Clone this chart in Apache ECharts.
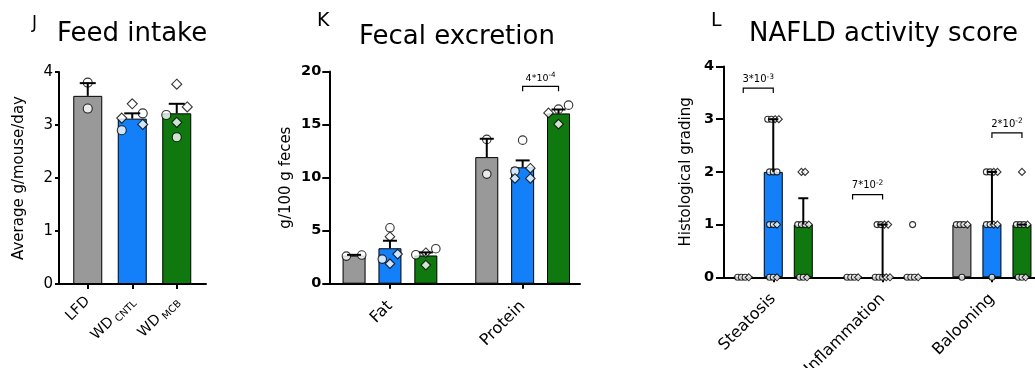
<!DOCTYPE html>
<html><head><meta charset="utf-8">
<script src="https://cdn.jsdelivr.net/npm/echarts@6/dist/echarts.min.js"></script>
<style>html,body{margin:0;padding:0;background:#fff}#c{width:1035px;height:368px}</style>
</head><body><div id="c"></div>
<script>
// ===== DATA =====
// Panel J: Feed intake
const jCategories = ['LFD', 'WD_CNTL', 'WD_MCB'];
const jMeans = [3.55, 3.12, 3.22];
const jErrTop = [3.79, 3.22, 3.40];
const jCircles = [[3.80, 3.31], [3.22, 2.90], [3.19, 2.77]];
const jDiamonds = [[], [3.40, 3.13, 3.01], [3.77, 3.34, 3.05]];

// Panel K: Fecal excretion
const kCategories = ['Fat', 'Protein'];
const kMeansLFD = [2.65, 11.93];
const kMeansCNTL = [3.34, 10.97];
const kMeansMCB = [2.66, 16.05];
const kErrTopLFD = [2.72, 13.66];
const kErrTopCNTL = [4.05, 11.62];
const kErrTopMCB = [2.95, 16.42];
const kCirclesLFD = [[2.60, 2.70], [13.60, 10.33]];
const kDiamondsLFD = [[], []];
const kCirclesCNTL = [[5.27, 2.32], [13.53, 10.61]];
const kDiamondsCNTL = [[4.43, 2.79, 1.88], [10.89, 9.92, 9.92]];
const kCirclesMCB = [[3.30, 2.73], [16.83, 16.45]];
const kDiamondsMCB = [[2.92, 1.76], [16.10, 15.04]];
const kSigCategory = [1];
const kSigFrom = [1];
const kSigTo = [2];
const kSigLevel = [18.6];
const kSigText = ['4*10^-4'];

// Panel L: NAFLD activity score
const lCategories = ['Steatosis', 'Inflammation', 'Balooning'];
const lMedLFD = [0, 0, 1];
const lMedCNTL = [2, 0, 1];
const lMedMCB = [1, 0, 1];
const lErrTopLFD = [null, null, null];
const lErrTopCNTL = [3, 1, 2];
const lErrTopMCB = [1.5, null, 1];
const lCirclesLFD = [[0, 0, 0], [0, 0, 0], [1, 1, 1, 0]];
const lDiamondsLFD = [[0], [0], [1]];
const lCirclesCNTL = [[3, 3, 2, 2, 2, 1, 1, 0, 0], [1, 1, 0, 0, 0], [2, 2, 1, 1, 0]];
const lDiamondsCNTL = [[3, 3, 1, 0], [1, 1, 0, 0], [2, 2, 1, 1]];
const lCirclesMCB = [[1, 1, 1, 0, 0], [1, 0, 0, 0], [1, 1, 1, 0, 0]];
const lDiamondsMCB = [[2, 2, 1, 0], [0], [2, 1, 0]];
const lSigCategory = [0, 1, 2];
const lSigFrom = [0, 0, 1];
const lSigTo = [1, 1, 2];
const lSigLevel = [3.59, 1.57, 2.74];
const lSigText = ['3*10^-3', '7*10^-2', '2*10^-2'];

// ===== STYLE / LAYOUT =====
const FONT = 'DejaVu Sans';
const GRAY = '#999999', BLUE = '#1380FA', GREEN = '#0F790F';
const slotColors = [GRAY, BLUE, GREEN];

const J = { frameLeft: 59, frameWidth: 147, dataLeft: 65.5, dataWidth: 133.5, top: 72, height: 212, max: 4, interval: 1 };
const K = { frameLeft: 329.3, frameWidth: 250.7, dataLeft: 323.6, dataWidth: 265.4, top: 71.5, height: 212.2, max: 20, interval: 5 };
const L = { frameLeft: 724, frameWidth: 311, dataLeft: 718.6, dataWidth: 328, top: 66.5, height: 210.8, max: 4, interval: 1 };

function rowOffsets(vals, ppu, rowPx, step, maxSpread) {
  const n = vals.length;
  const order = vals.map((_, i) => i).sort((a, b) => vals[b] - vals[a]);
  const off = new Array(n).fill(0);
  let row = [], rowTop = 0;
  const flush = () => {
    const r = row.slice().sort((a, b) => vals[a] - vals[b]);
    const st = r.length > 1 ? Math.min(step, maxSpread / (r.length - 1)) : 0;
    r.forEach((idx, k) => { off[idx] = (k - (r.length - 1) / 2) * st; });
    row = [];
  };
  order.forEach(i => {
    const y = -vals[i] * ppu;
    if (row.length && (y - rowTop) >= rowPx) flush();
    if (!row.length) rowTop = y;
    row.push(i);
  });
  if (row.length) flush();
  return off;
}

function pointSeries(xi, yi, circles, diamonds, slotOffset, ppu, rowPx, step, maxSpread, cSize, dSize) {
  const outC = [], outD = [];
  circles.forEach((cVals, ci) => {
    const dVals = diamonds[ci] || [];
    const all = cVals.map(v => ({ v, s: 'c' })).concat(dVals.map(v => ({ v, s: 'd' })));
    const offs = rowOffsets(all.map(p => p.v), ppu, rowPx, step, maxSpread);
    all.forEach((p, i) => {
      const item = { value: [ci, p.v], symbolOffset: [slotOffset + offs[i], 0] };
      (p.s === 'c' ? outC : outD).push(item);
    });
  });
  const base = { type: 'scatter', xAxisIndex: xi, yAxisIndex: yi, z: 4, silent: true,
    itemStyle: { color: '#fff', borderColor: '#000', borderWidth: 1.1 } };
  return [
    Object.assign({}, base, { symbol: 'circle', symbolSize: cSize, data: outC }),
    Object.assign({}, base, { symbol: 'diamond', symbolSize: dSize, data: outD })
  ];
}

function errorSeries(xi, yi, means, tops, slotOffset, cap) {
  const data = means.map((m, i) => tops[i] == null ? null : [i, m, tops[i]]).filter(Boolean);
  return { type: 'custom', xAxisIndex: xi, yAxisIndex: yi, z: 6, silent: true, data,
    encode: { x: 0, y: [1, 2] },
    renderItem(params, api) {
      const c0 = api.coord([api.value(0), api.value(1)]);
      const c1 = api.coord([api.value(0), api.value(2)]);
      const x = c0[0] + slotOffset;
      const st = { stroke: '#000', lineWidth: 2 };
      return { type: 'group', children: [
        { type: 'line', shape: { x1: x, y1: c0[1], x2: x, y2: c1[1] }, style: st },
        { type: 'line', shape: { x1: x - cap, y1: c1[1], x2: x + cap, y2: c1[1] }, style: st }
      ] };
    } };
}

function sigSeries(xi, yi, cats, from, to, levels, texts, slotStep, tickPx, fs) {
  const data = cats.map((c, i) => [c, levels[i], from[i], to[i]]);
  return { type: 'custom', xAxisIndex: xi, yAxisIndex: yi, z: 7, silent: true, data,
    encode: { x: 0, y: 1 },
    renderItem(params, api) {
      const p = api.coord([api.value(0), api.value(1)]);
      const x1 = p[0] + (api.value(2) - 1) * slotStep;
      const x2 = p[0] + (api.value(3) - 1) * slotStep;
      const parts = texts[params.dataIndex].split('^');
      return { type: 'group', children: [
        { type: 'polyline', shape: { points: [[x1, p[1] + tickPx], [x1, p[1]], [x2, p[1]], [x2, p[1] + tickPx]] },
          style: { stroke: '#000', lineWidth: 1.2, fill: null } },
        { type: 'text', x: (x1 + x2) / 2, y: p[1] - 2,
          style: { text: '{m|' + parts[0] + '}{e|' + parts[1] + '}', align: 'center', verticalAlign: 'bottom',
            fontFamily: FONT, fontSize: fs, fill: '#000',
            rich: { m: { fontFamily: FONT, fontSize: fs, fill: '#000' },
                    e: { fontFamily: FONT, fontSize: fs * 0.75, fill: '#000', padding: [0, 0, fs * 0.55, 0] } } } }
      ] };
    } };
}

function frameAxes(P, gi, tickLen, labelMargin, bold, name, nameGap) {
  return {
    x: { type: 'category', gridIndex: gi, data: [''], axisLine: { lineStyle: { color: '#000', width: 2 } },
         axisTick: { show: false }, axisLabel: { show: false }, splitLine: { show: false } },
    y: { type: 'value', gridIndex: gi, min: 0, max: P.max, interval: P.interval,
         axisLine: { show: true, lineStyle: { color: '#000', width: 2 } },
         axisTick: { show: true, length: tickLen, lineStyle: { color: '#000', width: 2 } },
         axisLabel: { margin: labelMargin, color: '#000', fontFamily: FONT, fontSize: bold ? 14.5 : 15, fontWeight: bold ? 'bold' : 'normal' },
         splitLine: { show: false },
         name, nameLocation: 'middle', nameGap, nameTextStyle: { color: '#000', fontFamily: FONT, fontSize: 15 } }
  };
}
function dataAxes(P, gi, cats, fs, margin, rich, formatter) {
  return {
    x: { type: 'category', gridIndex: gi, data: cats, axisLine: { show: false },
         axisTick: { show: true, alignWithLabel: true, length: 5, lineStyle: { color: '#000', width: 2 } },
         axisLabel: { interval: 0, rotate: 45, margin, color: '#000', fontFamily: FONT, fontSize: fs, rich, formatter } },
    y: { type: 'value', gridIndex: gi, min: 0, max: P.max, interval: P.interval, show: false }
  };
}

const grids = [], xAxes = [], yAxes = [], series = [];
function addGrid(left, width, P) {
  grids.push({ left, width, top: P.top, height: P.height, containLabel: false, outerBoundsMode: 'none' });
  return grids.length - 1;
}

// ---- Panel J ----
{
  const gF = addGrid(J.frameLeft, J.frameWidth, J);
  const gD = addGrid(J.dataLeft, J.dataWidth, J);
  const fa = frameAxes(J, gF, 4, 6, false, 'Average g/mouse/day', 32);
  xAxes.push(fa.x); yAxes.push(fa.y);
  const da = dataAxes(J, gD, jCategories, 14.5, 15,
    { m: { fontFamily: FONT, fontSize: 14.5, color: '#000' }, s: { fontFamily: FONT, fontSize: 10, color: '#000', padding: [9, 0, 0, 3] } },
    v => { const p = v.split('_'); return p[1] ? '{m|' + p[0] + '}{s|' + p[1] + '}' : '{m|' + p[0] + '}'; });
  xAxes.push(da.x); yAxes.push(da.y);
  const ppu = J.height / J.max;
  series.push({ type: 'bar', xAxisIndex: 1, yAxisIndex: 1, barWidth: 29, z: 2, silent: true,
    itemStyle: { borderColor: '#000', borderWidth: 1 },
    data: jMeans.map((v, i) => ({ value: v, itemStyle: { color: slotColors[i] } })) });
  series.push(...pointSeries(1, 1, jCircles, jDiamonds, 0, ppu, 9, 21, 21, 9, 10));
  series.push(errorSeries(1, 1, jMeans, jErrTop, 0, 8));
}

// ---- Panel K ----
{
  const gF = addGrid(K.frameLeft, K.frameWidth, K);
  const gD = addGrid(K.dataLeft, K.dataWidth, K);
  const fa = frameAxes(K, gF, 7, 8, true, 'g/100 g feces', 36);
  xAxes.push(fa.x); yAxes.push(fa.y);
  const da = dataAxes(K, gD, kCategories, 16, 20);
  xAxes.push(da.x); yAxes.push(da.y);
  const ppu = K.height / K.max, bw = 23, gap = 0.56, step = bw * (1 + gap);
  const means = [kMeansLFD, kMeansCNTL, kMeansMCB], tops = [kErrTopLFD, kErrTopCNTL, kErrTopMCB];
  const circ = [kCirclesLFD, kCirclesCNTL, kCirclesMCB], diam = [kDiamondsLFD, kDiamondsCNTL, kDiamondsMCB];
  means.forEach((m, s) => series.push({ type: 'bar', xAxisIndex: 3, yAxisIndex: 3, barWidth: bw, barGap: (gap * 100) + '%', z: 2, silent: true,
    itemStyle: { color: slotColors[s], borderColor: '#000', borderWidth: 1 }, data: m }));
  means.forEach((m, s) => series.push(...pointSeries(3, 3, circ[s], diam[s], (s - 1) * step, ppu, 8.5, 15.4, 20, 8.5, 9.5)));
  means.forEach((m, s) => series.push(errorSeries(3, 3, m, tops[s], (s - 1) * step, 7)));
  series.push(sigSeries(3, 3, kSigCategory, kSigFrom, kSigTo, kSigLevel, kSigText, step, 5, 9.5));
}

// ---- Panel L ----
{
  const gF = addGrid(L.frameLeft, L.frameWidth, L);
  const gD = addGrid(L.dataLeft, L.dataWidth, L);
  const fa = frameAxes(L, gF, 8, 10, true, 'Histological grading', 30);
  xAxes.push(fa.x); yAxes.push(fa.y);
  const da = dataAxes(L, gD, lCategories, 16, 19);
  xAxes.push(da.x); yAxes.push(da.y);
  const ppu = L.height / L.max, bw = 19, gap = 0.58, step = bw * (1 + gap);
  const meds = [lMedLFD, lMedCNTL, lMedMCB], tops = [lErrTopLFD, lErrTopCNTL, lErrTopMCB];
  const circ = [lCirclesLFD, lCirclesCNTL, lCirclesMCB], diam = [lDiamondsLFD, lDiamondsCNTL, lDiamondsMCB];
  meds.forEach((m, s) => series.push({ type: 'bar', xAxisIndex: 5, yAxisIndex: 5, barWidth: bw, barGap: (gap * 100) + '%', z: 2, silent: true,
    itemStyle: { color: slotColors[s], borderColor: '#000', borderWidth: 1 }, data: m }));
  meds.forEach((m, s) => series.push(...pointSeries(5, 5, circ[s], diam[s], (s - 1) * step, ppu, 4, 3.7, 16, 6, 7)));
  meds.forEach((m, s) => series.push(errorSeries(5, 5, m, tops[s], (s - 1) * step, 5)));
  series.push(sigSeries(5, 5, lSigCategory, lSigFrom, lSigTo, lSigLevel, lSigText, step, 5, 10));
}

const titleStyle = { color: '#000', fontFamily: FONT, fontWeight: 'normal' };
const titles = [
  { text: 'J', left: 32, top: 15, padding: 0, textStyle: Object.assign({ fontSize: 17 }, titleStyle) },
  { text: 'Feed intake', left: 57, top: 21, padding: 0, textStyle: Object.assign({ fontSize: 26 }, titleStyle) },
  { text: 'K', left: 317, top: 12, padding: 0, textStyle: Object.assign({ fontSize: 19 }, titleStyle) },
  { text: 'Fecal excretion', left: 359, top: 24, padding: 0, textStyle: Object.assign({ fontSize: 26 }, titleStyle) },
  { text: 'L', left: 711, top: 12, padding: 0, textStyle: Object.assign({ fontSize: 19 }, titleStyle) },
  { text: 'NAFLD activity score', left: 749, top: 21, padding: 0, textStyle: Object.assign({ fontSize: 26 }, titleStyle) }
];

const chart = echarts.init(document.getElementById('c'), null, { renderer: 'canvas' });
chart.setOption({
  animation: false,
  backgroundColor: '#fff',
  title: titles,
  grid: grids,
  xAxis: xAxes,
  yAxis: yAxes,
  series
});
</script></body></html>
